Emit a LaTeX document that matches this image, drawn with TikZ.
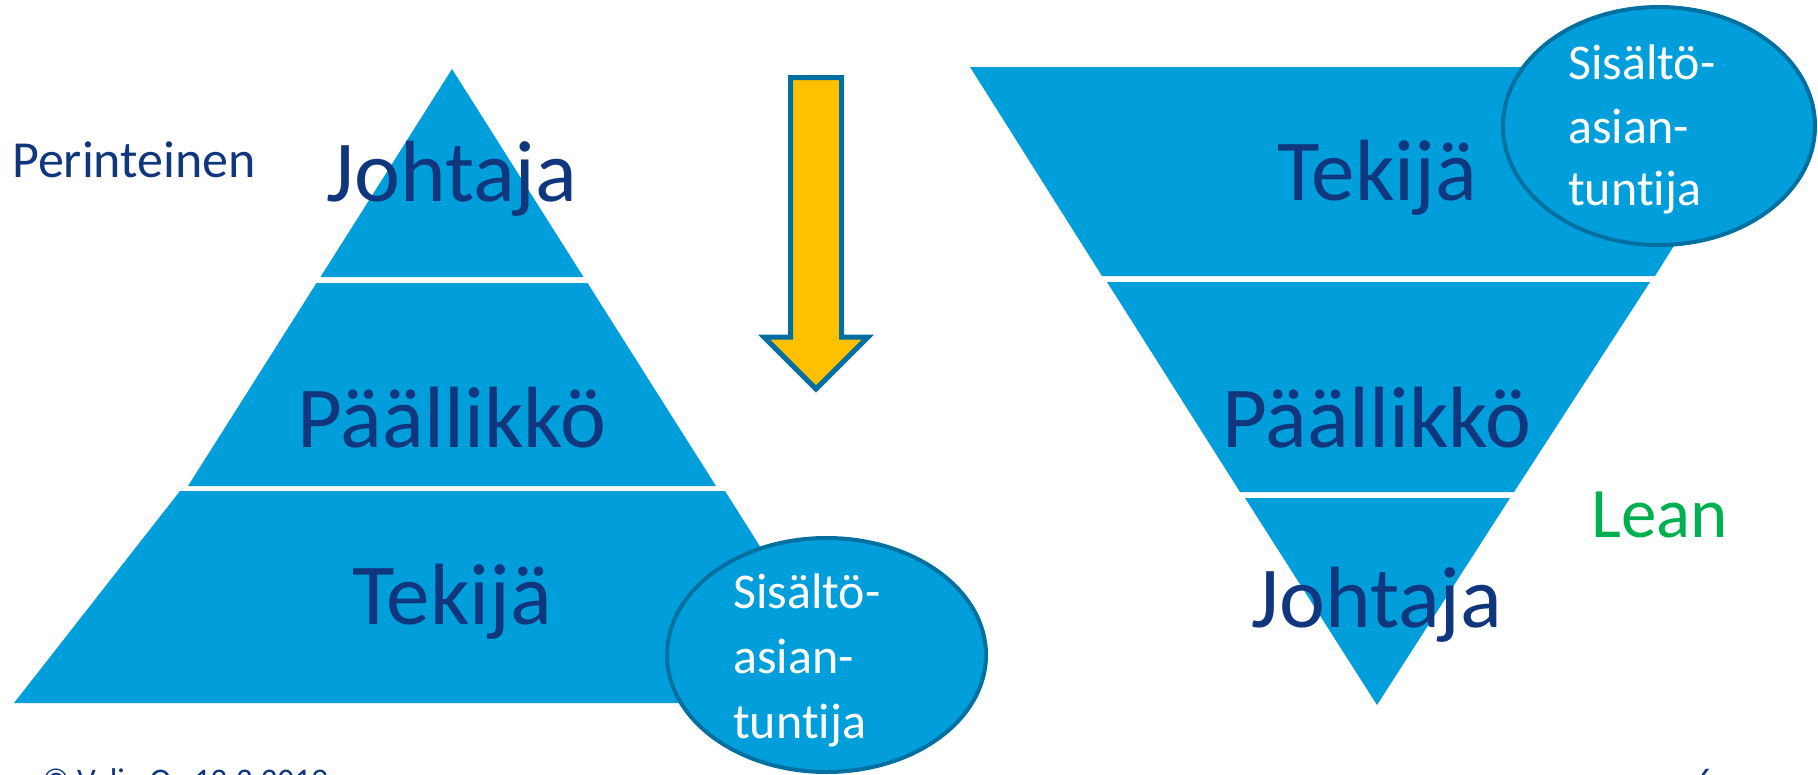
\documentclass[tikz,border=0pt]{standalone}
\usepackage{fontspec}
\setmainfont{Carlito}[Ligatures={NoCommon,NoContextual}]
\usetikzlibrary{shapes.geometric}
\definecolor{pyr}{RGB}{0,158,219}
\definecolor{txt}{RGB}{16,55,125}
\definecolor{edgeblue}{RGB}{0,112,160}
\definecolor{arrowfill}{RGB}{255,192,0}
\definecolor{leangreen}{RGB}{0,176,80}
\begin{document}
\begin{tikzpicture}[x=1pt,y=-1pt,
  layer/.style={fill=pyr},
  big/.style={font=\fontsize{87}{87}\selectfont, text=txt, anchor=base, inner sep=0},
  bubble/.style={ellipse, draw=edgeblue, line width=4pt, fill=pyr, inner sep=0},
  bubbletext/.style={font=\fontsize{50}{65}\selectfont, text=white, anchor=base west, inner sep=0},
  side/.style={text=txt, anchor=base west, inner sep=0}]
\useasboundingbox (0,0) rectangle (1818,774);
\fill[white] (0,0) rectangle (1818,774);
% left pyramid
\fill[layer] (452,69) -- (320.5,277) -- (583.5,277) -- cycle;
\fill[layer] (316.5,283) -- (587.5,283) -- (716,486) -- (188,486) -- cycle;
\fill[layer] (180,491) -- (725,491) -- (859,703) -- (14,703) -- cycle;
\node[big] (lj) at (452,201) {Johtaja};
\node[big] (lp) at (452,447) {Päällikkö};
\node[big] (lt) at (452,624) {Tekijä};
\node[bubble, minimum width=319, minimum height=234] (lb) at (826.5,655) {};
\node[bubbletext] (lb1) at (733,608) {Sisältö-};
\node[bubbletext] (lb2) at (733,673) {asian-};
\node[bubbletext] (lb3) at (733,738) {tuntija};
% right pyramid
\fill[layer] (970,67) -- (1786,67) -- (1655,276) -- (1102,276) -- cycle;
\fill[layer] (1107,282) -- (1650,282) -- (1514,492) -- (1240,492) -- cycle;
\fill[layer] (1245,498) -- (1510,498) -- (1377,705) -- cycle;
\node[big] (rt) at (1377,200) {Tekijä};
\node[big] (rp) at (1377,447) {Päällikkö};
\node[big] (rj) at (1377,627) {Johtaja};
\node[bubble, minimum width=312, minimum height=238] (rb) at (1659,126) {};
\node[bubbletext] (rb1) at (1568,79) {Sisältö-};
\node[bubbletext] (rb2) at (1568,143) {asian-};
\node[bubbletext] (rb3) at (1568,205) {tuntija};
% arrow
\draw[draw=edgeblue, line width=5pt, fill=arrowfill, line join=miter]
  (790.5,77.5) -- (841.5,77.5) -- (841.5,337) -- (868,337) -- (816,389)
  -- (764,337) -- (790.5,337) -- cycle;
% side labels
\node[side, font=\fontsize{52}{52}\selectfont] (per) at (12,177) {Perinteinen};
\node[side, text=leangreen, font=\fontsize{71}{71}\selectfont] (lean) at (1591,537) {Lean};
% footer (cut by the page edge, as in the reference)
\node[side, font=\fontsize{33}{33}\selectfont] (foot) at (42,791) {© Valiu Oy 12.3.2019};
\node[side, font=\fontsize{33}{33}\selectfont] (pg) at (1696,791) {6};
\end{tikzpicture}
\end{document}
